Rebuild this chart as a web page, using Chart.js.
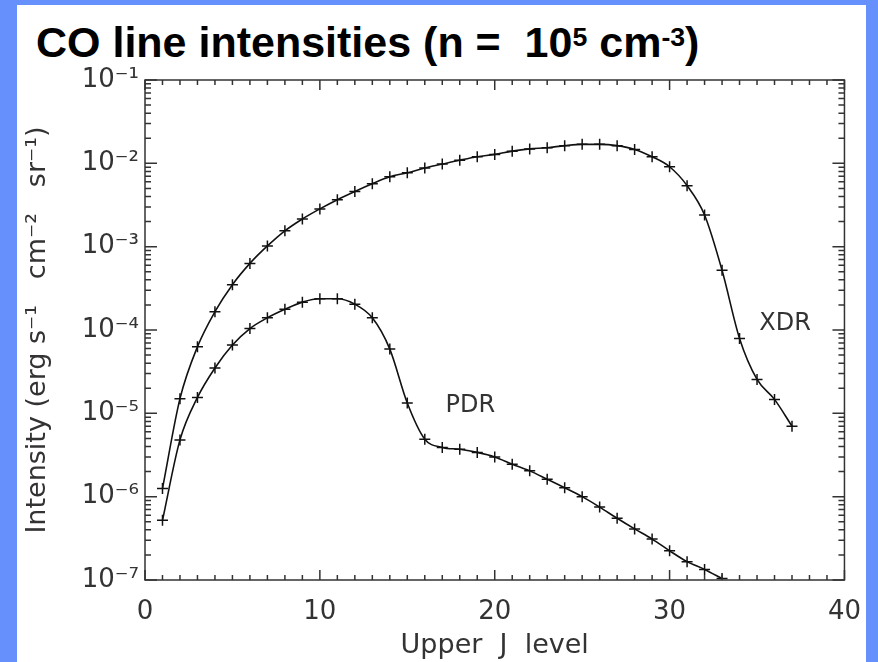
<!DOCTYPE html>
<html lang="en">
<head>
  <meta charset="UTF-8">
  <title>CO line intensities</title>
  <script src="https://cdn.jsdelivr.net/npm/chart.js"></script>
  <style>
    html, body {
      margin: 0;
      padding: 0;
      width: 878px;
      height: 662px;
      overflow: hidden;
      background: #6690fc;
    }
    .panel {
      position: absolute;
      left: 17px;
      top: 5px;
      width: 849px;
      height: 657px;
      background: #fff;
    }
    h1 {
      position: absolute;
      left: 36px;
      top: 21px;
      margin: 0;
      font-family: 'Liberation Sans', Arial, sans-serif;
      font-weight: bold;
      font-size: 43px;
      line-height: 1;
      color: #000;
      white-space: pre;
    }
    h1 sup {
      font-size: 0.62em;
      vertical-align: 0.42em;
      line-height: 0;
    }
    canvas {
      position: absolute;
      left: 0;
      top: 0;
    }
  </style>
</head>
<body>
  <div class="panel"></div>
  <h1>CO line intensities (n =  10<sup>5</sup> cm<sup>-3</sup>)</h1>
  <canvas id="coChart" width="878" height="662"></canvas>

  <script>
    // upper J level of each line
    const jXdr = [1, 2, 3, 4, 5, 6, 7, 8, 9, 10, 11, 12, 13, 14, 15, 16, 17, 18, 19,
                  20, 21, 22, 23, 24, 25, 26, 27, 28, 29, 30, 31, 32, 33, 34, 35, 36, 37];
    const jPdr = [1, 2, 3, 4, 5, 6, 7, 8, 9, 10, 11, 12, 13, 14, 15, 16, 17, 18, 19,
                  20, 21, 22, 23, 24, 25, 26, 27, 28, 29, 30, 31, 32, 33];

    // intensities, erg s-1 cm-2 sr-1
    const xdrIntensity = [1.25e-6, 1.5e-5, 6.3e-5, 1.66e-4, 3.5e-4, 6.3e-4, 1.02e-3, 1.55e-3,
                          2.15e-3, 2.84e-3, 3.66e-3, 4.6e-3, 5.7e-3, 6.9e-3, 7.7e-3, 8.8e-3,
                          9.8e-3, 1.09e-2, 1.2e-2, 1.28e-2, 1.4e-2, 1.49e-2, 1.54e-2, 1.63e-2,
                          1.69e-2, 1.69e-2, 1.63e-2, 1.47e-2, 1.2e-2, 9.1e-3, 5.4e-3, 2.4e-3,
                          5.2e-4, 7.9e-5, 2.55e-5, 1.47e-5, 7.0e-6];
    const pdrIntensity = [5.2e-7, 4.8e-6, 1.55e-5, 3.5e-5, 6.6e-5, 1.04e-4, 1.4e-4, 1.77e-4,
                          2.16e-4, 2.37e-4, 2.37e-4, 2.04e-4, 1.4e-4, 5.9e-5, 1.33e-5, 4.9e-6,
                          3.9e-6, 3.7e-6, 3.4e-6, 3.0e-6, 2.45e-6, 2.04e-6, 1.62e-6, 1.28e-6,
                          1.0e-6, 7.5e-7, 5.5e-7, 4.1e-7, 3.1e-7, 2.24e-7, 1.66e-7, 1.34e-7,
                          1.04e-7];

    const xTicks = [0, 10, 20, 30, 40];
    const xTickLabels = ['0', '10', '20', '30', '40'];
    const yTicks = [1e-7, 1e-6, 1e-5, 1e-4, 1e-3, 1e-2, 1e-1];
    const yTickLabels = ['10⁻⁷', '10⁻⁶', '10⁻⁵', '10⁻⁴', '10⁻³', '10⁻²', '10⁻¹'];

    const seriesNames = ['XDR', 'PDR'];

    const toPoints = (xs, ys) => xs.map((x, i) => ({ x: x, y: ys[i] }));

    // where the curve names sit, in data units
    const curveNotes = [
      { text: seriesNames[0], j: 36.6, val: 1.2e-4 },
      { text: seriesNames[1], j: 18.6, val: 1.23e-5 }
    ];

    // IDL style frame: box with inward ticks on all four sides
    const framePlugin = {
      id: 'frame',
      afterDatasetsDraw(chart) {
        const ctx = chart.ctx;
        const { left, right, top, bottom } = chart.chartArea;
        const xs = chart.scales.x, ys = chart.scales.y;
        ctx.save();
        ctx.strokeStyle = '#333';
        ctx.lineWidth = 1.5;
        ctx.strokeRect(left, top, right - left, bottom - top);

        ctx.beginPath();
        for (let v = xs.min; v <= xs.max; v++) {
          const px = xs.getPixelForValue(v);
          const len = v % 10 === 0 ? 10 : 5;
          ctx.moveTo(px, bottom); ctx.lineTo(px, bottom - len);
          ctx.moveTo(px, top); ctx.lineTo(px, top + len);
        }
        for (let e = -7; e <= -1; e++) {
          for (let m = 1; m <= 9; m++) {
            const v = m * Math.pow(10, e);
            if (v > ys.max * 1.0001) break;
            const py = ys.getPixelForValue(v);
            const len = m === 1 ? 12 : 6;
            ctx.moveTo(left, py); ctx.lineTo(left + len, py);
            ctx.moveTo(right, py); ctx.lineTo(right - len, py);
          }
        }
        ctx.stroke();

        ctx.fillStyle = '#333';
        ctx.font = '24px "DejaVu Sans"';
        ctx.textAlign = 'center';
        ctx.textBaseline = 'middle';
        curveNotes.forEach(n => {
          ctx.fillText(n.text, xs.getPixelForValue(n.j), ys.getPixelForValue(n.val));
        });
        ctx.restore();
      }
    };

    const tickFont = { family: 'DejaVu Sans', size: 26 };

    new Chart(document.getElementById('coChart').getContext('2d'), {
      type: 'line',
      data: {
        datasets: [
          {
            label: seriesNames[0],
            data: toPoints(jXdr, xdrIntensity),
            borderColor: '#111',
            borderWidth: 1.6,
            pointStyle: 'cross',
            pointRadius: 5.5,
            pointBorderColor: '#111',
            pointBorderWidth: 1.5,
            cubicInterpolationMode: 'monotone',
            clip: 0
          },
          {
            label: seriesNames[1],
            data: toPoints(jPdr, pdrIntensity),
            borderColor: '#111',
            borderWidth: 1.6,
            pointStyle: 'cross',
            pointRadius: 5.5,
            pointBorderColor: '#111',
            pointBorderWidth: 1.5,
            cubicInterpolationMode: 'monotone',
            clip: 0
          }
        ]
      },
      options: {
        responsive: false,
        animation: false,
        layout: { padding: { top: 80, right: 29, bottom: 0, left: 0 } },
        plugins: {
          legend: { display: false },
          tooltip: { enabled: false }
        },
        scales: {
          x: {
            type: 'linear',
            min: 0,
            max: 40,
            afterFit: s => { s.height = 82; },
            afterBuildTicks: s => { s.ticks = xTicks.map(v => ({ value: v })); },
            grid: { display: false, drawTicks: false },
            border: { display: false },
            ticks: {
              font: tickFont,
              color: '#333',
              padding: 17,
              maxRotation: 0,
              callback: (v, i) => xTickLabels[i]
            },
            title: {
              display: true,
              text: 'Upper  J  level',
              font: { family: 'DejaVu Sans', size: 27 },
              color: '#333',
              padding: { top: 0, bottom: 0 }
            }
          },
          y: {
            type: 'logarithmic',
            min: 1e-7,
            max: 1e-1,
            afterFit: s => { s.width = 145; },
            afterBuildTicks: s => { s.ticks = yTicks.map(v => ({ value: v })); },
            grid: { display: false, drawTicks: false },
            border: { display: false },
            ticks: {
              font: tickFont,
              color: '#333',
              padding: 6,
              callback: (v, i) => yTickLabels[i]
            },
            title: {
              display: true,
              text: 'Intensity (erg s⁻¹   cm⁻²   sr⁻¹)',
              font: { family: 'DejaVu Sans', size: 27 },
              color: '#333',
              padding: { top: 22, bottom: 0 }
            }
          }
        }
      },
      plugins: [framePlugin]
    });
  </script>
</body>
</html>
